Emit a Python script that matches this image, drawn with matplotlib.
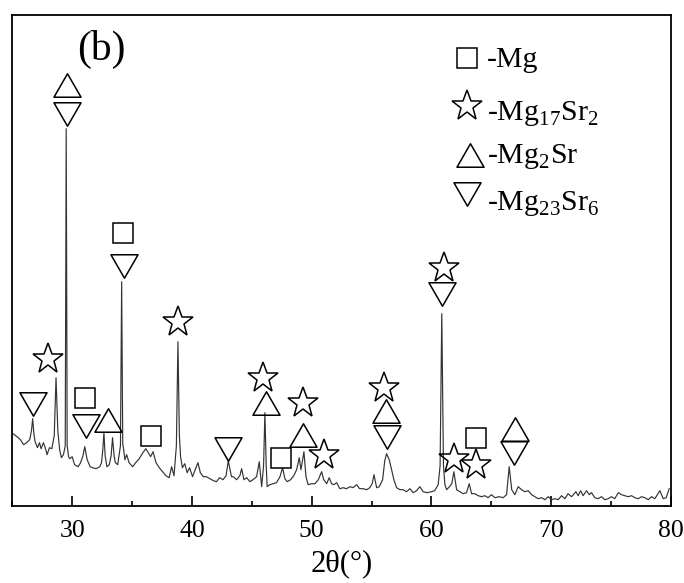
import numpy as np
import matplotlib
matplotlib.use('Agg')
import matplotlib.pyplot as plt
from matplotlib.path import Path

plt.rcParams['font.family'] = ['Liberation Serif', 'DejaVu Serif']
plt.rcParams['mathtext.fontset'] = 'custom'
plt.rcParams['mathtext.rm'] = 'Liberation Serif'

# XRD pattern (2theta in degrees, intensity in a.u.)
two_theta = [25.05, 25.4, 25.67, 25.95, 26.2, 26.45, 26.6, 26.7, 26.8, 26.9,
             27.1, 27.27, 27.4, 27.6, 27.8, 27.9, 28.1, 28.3, 28.5, 28.65,
             28.8, 28.95, 29.1, 29.27, 29.42, 29.5, 29.58, 29.7, 29.8, 30.0,
             30.2, 30.5, 30.7, 30.9, 31.05, 31.25, 31.5, 31.7, 32.0, 32.3,
             32.45, 32.55, 32.65, 32.75, 32.9, 33.1, 33.25, 33.37, 33.5, 33.6,
             33.8, 33.9, 34.03, 34.13, 34.22, 34.3, 34.4, 34.55, 34.75, 35.05,
             35.3, 35.6, 35.9, 36.15, 36.35, 36.55, 36.75, 37.0, 37.27, 37.55,
             37.83, 38.1, 38.3, 38.5, 38.7, 38.83, 38.95, 39.05, 39.2, 39.4,
             39.6, 39.8, 40.05, 40.27, 40.5, 40.7, 40.95, 41.2, 41.5, 41.8,
             42.05, 42.3, 42.6, 42.85, 43.03, 43.3, 43.45, 43.73, 44.0, 44.15,
             44.34, 44.57, 44.84, 45.1, 45.4, 45.62, 45.82, 45.98, 46.09, 46.2,
             46.28, 46.5, 46.78, 47.06, 47.35, 47.57, 47.76, 47.95, 48.24, 48.5,
             48.74, 48.96, 49.1, 49.35, 49.52, 49.7, 50.0, 50.27, 50.55, 50.83,
             51.0, 51.25, 51.46, 51.66, 51.85, 52.08, 52.35, 52.63, 52.9, 53.2,
             53.45, 53.75, 54.0, 54.3, 54.58, 54.85, 55.05, 55.2, 55.42, 55.64,
             55.92, 56.1, 56.25, 56.47, 56.67, 56.86, 57.09, 57.36, 57.64, 57.92,
             58.2, 58.47, 58.75, 59.03, 59.3, 59.64, 60.0, 60.27, 60.56, 60.72,
             60.86, 61.0, 61.12, 61.26, 61.5, 61.7, 61.87, 62.1, 62.37, 62.64,
             62.93, 63.15, 63.35, 63.62, 63.9, 64.18, 64.46, 64.73, 65.0, 65.3,
             65.65, 65.98, 66.27, 66.49, 66.7, 66.96, 67.24, 67.52, 67.8, 68.08,
             68.36, 68.64, 68.9, 69.2, 69.47, 69.75, 70.03, 70.3, 70.58, 70.86,
             71.14, 71.4, 71.7, 72.06, 72.25, 72.45, 72.66, 72.95, 73.17, 73.36,
             73.64, 73.9, 74.2, 74.47, 74.75, 75.03, 75.3, 75.6, 75.87, 76.15,
             76.42, 76.7, 76.98, 77.26, 77.54, 77.82, 78.1, 78.37, 78.65, 79.07,
             79.35, 79.6, 79.85]
intensity = [72, 69, 66, 61, 63, 66, 75, 87, 72, 64,
             58, 63, 57, 63, 56, 51, 58, 57, 70, 128,
             75, 56, 48, 51, 60, 377, 60, 49, 47, 49,
             41, 39, 43, 50, 59, 46, 39, 38, 37, 39,
             43, 55, 73, 50, 39, 41, 50, 68, 50, 43,
             41, 49, 60, 224, 62, 56, 46, 51, 43, 39,
             43, 47, 53, 57, 53, 49, 54, 43, 38, 34,
             30, 28, 39, 30, 60, 164, 70, 49, 38, 42,
             33, 38, 29, 36, 43, 33, 29, 29, 27, 25,
             24, 28, 26, 30, 45, 29, 29, 26, 30, 37,
             26, 28, 24, 26, 29, 44, 19, 40, 93, 40,
             19, 21, 22, 23, 29, 38, 27, 24, 26, 30,
             36, 48, 36, 54, 29, 21, 22, 22, 26, 34,
             26, 22, 28, 22, 21, 23, 17, 18, 17, 19,
             18, 21, 17, 17, 16, 18, 22, 31, 18, 19,
             26, 45, 52, 46, 36, 26, 18, 16, 16, 14,
             17, 13, 15, 19, 14, 13, 14, 15, 21, 40,
             192, 40, 21, 16, 19, 22, 34, 16, 14, 12,
             13, 22, 12, 12, 10, 9, 10, 8, 11, 8,
             9, 8, 11, 39, 16, 11, 19, 16, 14, 15,
             11, 9, 7, 8, 6, 9, 6, 7, 6, 10,
             7, 12, 9, 14, 10, 15, 10, 15, 11, 13,
             8, 7, 9, 6, 7, 9, 7, 13, 11, 10,
             9, 10, 8, 7, 9, 8, 6, 9, 7, 15,
             7, 8, 17]

# phase markers (2theta, height)
mg_x = [31.1, 34.25, 36.55, 47.4, 63.75]
mg_y = [108, 273, 70, 48, 68]
mg17sr2_x = [28.0, 38.8, 45.93, 49.3, 51.05, 56.05, 61.05, 61.85, 63.7]
mg17sr2_y = [147, 184, 128, 103, 51, 118, 238, 47, 41]
mg2sr_x = [29.6, 32.95, 46.2, 49.3, 56.2, 66.95]
mg2sr_y = [421, 86, 103, 71, 95, 77]
mg23sr6_x = [26.7, 29.55, 31.15, 34.3, 43.0, 56.3, 60.9, 66.93]
mg23sr6_y = [102, 392, 80, 240, 57, 69, 212, 53]

legend_labels = ['-Mg', r'-Mg$_{\mathregular{17}}$Sr$_{\mathregular{2}}$',
                 r'-Mg$_{\mathregular{2}}$Sr',
                 r'-Mg$_{\mathregular{23}}$Sr$_{\mathregular{6}}$']

h = np.sqrt(3) / 2
tri_up = Path([(-1, -h), (1, -h), (0, h), (-1, -h)],
              [Path.MOVETO, Path.LINETO, Path.LINETO, Path.CLOSEPOLY])
tri_down = Path([(-1, h), (1, h), (0, -h), (-1, h)],
                [Path.MOVETO, Path.LINETO, Path.LINETO, Path.CLOSEPOLY])

styles = [dict(marker='s', ms=15),
          dict(marker='*', ms=22.5),
          dict(marker=tri_up, ms=19.5),
          dict(marker=tri_down, ms=19.5)]
common = dict(ls='none', mfc='none', mec='black', mew=1.1)

fig = plt.figure(figsize=(6.84, 5.83), dpi=100)
ax = fig.add_axes([0.018, 0.1326, 0.963, 0.8417])

ax.plot(two_theta, intensity, color='#333333', lw=0.85)

for (xs, ys), st in zip([(mg_x, mg_y), (mg17sr2_x, mg17sr2_y),
                         (mg2sr_x, mg2sr_y), (mg23sr6_x, mg23sr6_y)], styles):
    ax.plot(xs, ys, **st, **common)

# legend drawn by hand like the original
mark_y = [0.912, 0.815, 0.715, 0.635]
text_y = [0.895, 0.786, 0.698, 0.603]
mark_x = [0.690, 0.690, 0.6945, 0.690]
for i, st in enumerate(styles):
    ax.plot([mark_x[i]], [mark_y[i]], transform=ax.transAxes, clip_on=False,
            **st, **common)
    ax.text(0.7207, text_y[i], legend_labels[i], transform=ax.transAxes,
            fontsize=21.5, va='baseline', ha='left')

ax.text(0.135, 0.93, '(b)', transform=ax.transAxes, fontsize=30,
        ha='center', va='center')

ax.set_xlim(25, 80)
ax.set_ylim(0, 490.7)
ax.set_xticks([30, 40, 50, 60, 70, 80])
ax.set_xticks(np.arange(25, 81, 5), minor=True)
ax.set_yticks([])
ax.tick_params(axis='x', which='major', direction='in', length=7.2, width=1.2,
               labelsize=18.5, pad=10.5)
ax.tick_params(axis='x', which='minor', direction='in', length=3.6, width=1.2)
for sp in ax.spines.values():
    sp.set_linewidth(1.3)
ax.set_xlabel('2\u03b8(\u00b0)', fontsize=22, labelpad=5)

fig.savefig('out.png', dpi=100)
